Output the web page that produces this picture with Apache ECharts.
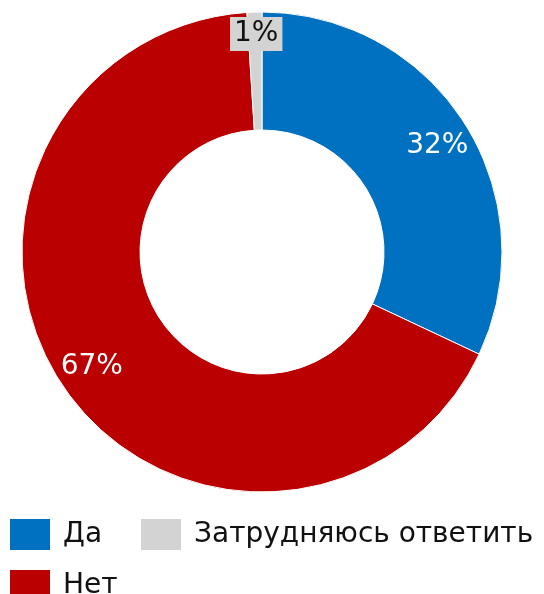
<!DOCTYPE html>
<html>
<head>
<meta charset="utf-8">
<script src="https://cdn.jsdelivr.net/npm/echarts@6/dist/echarts.min.js"></script>
<style>
  html, body { margin: 0; padding: 0; background: #fff; }
  #chart { width: 544px; height: 594px; }
</style>
</head>
<body>
<div id="chart"></div>
<script>
// данные опроса
var names = ['Да', 'Нет', 'Затрудняюсь ответить'];
var values = [32, 67, 1];
var colors = ['#0070c0', '#ba0000', '#d3d3d3'];
var legendRow1 = ['Да', 'Затрудняюсь ответить'];
var legendRow2 = ['Нет'];

var labelOffsets = [[20, -8], [-18, 11], [0, -34]];

var chart = echarts.init(document.getElementById('chart'));

var pieData = names.map(function (n, i) {
    var item = {
        name: n,
        value: values[i],
        itemStyle: { color: colors[i] },
        label: { offset: labelOffsets[i] }
    };
    if (i == 2) {
        // маленький сектор - подпись на сером фоне
        item.label.color = '#111';
        item.label.backgroundColor = '#d3d3d3';
        item.label.padding = [4, 4, 2, 4];
    }
    return item;
});

function makeLegend(data, top) {
    return {
        data: data,
        left: 8,
        top: top,
        width: 900,
        padding: 0,
        itemWidth: 42,
        itemHeight: 33,
        itemGap: 37,
        icon: 'rect',
        textStyle: {
            fontFamily: 'DejaVu Sans',
            fontSize: 28,
            color: '#111',
            padding: [0, 0, 0, 7]
        }
    };
}

var option = {
    animation: false,
    legend: [makeLegend(legendRow1, 517), makeLegend(legendRow2, 568)],
    series: [
        {
            type: 'pie',
            center: [262, 252],
            radius: [122, 240],
            startAngle: 90,
            clockwise: true,
            avoidLabelOverlap: false,
            itemStyle: { borderColor: '#fff', borderWidth: 1 },
            label: {
                show: true,
                position: 'inside',
                formatter: '{c}%',
                fontFamily: 'DejaVu Sans',
                fontSize: 28,
                color: '#fff'
            },
            labelLine: { show: false },
            emphasis: { disabled: true },
            data: pieData
        }
    ]
};

chart.setOption(option);
</script>
</body>
</html>
